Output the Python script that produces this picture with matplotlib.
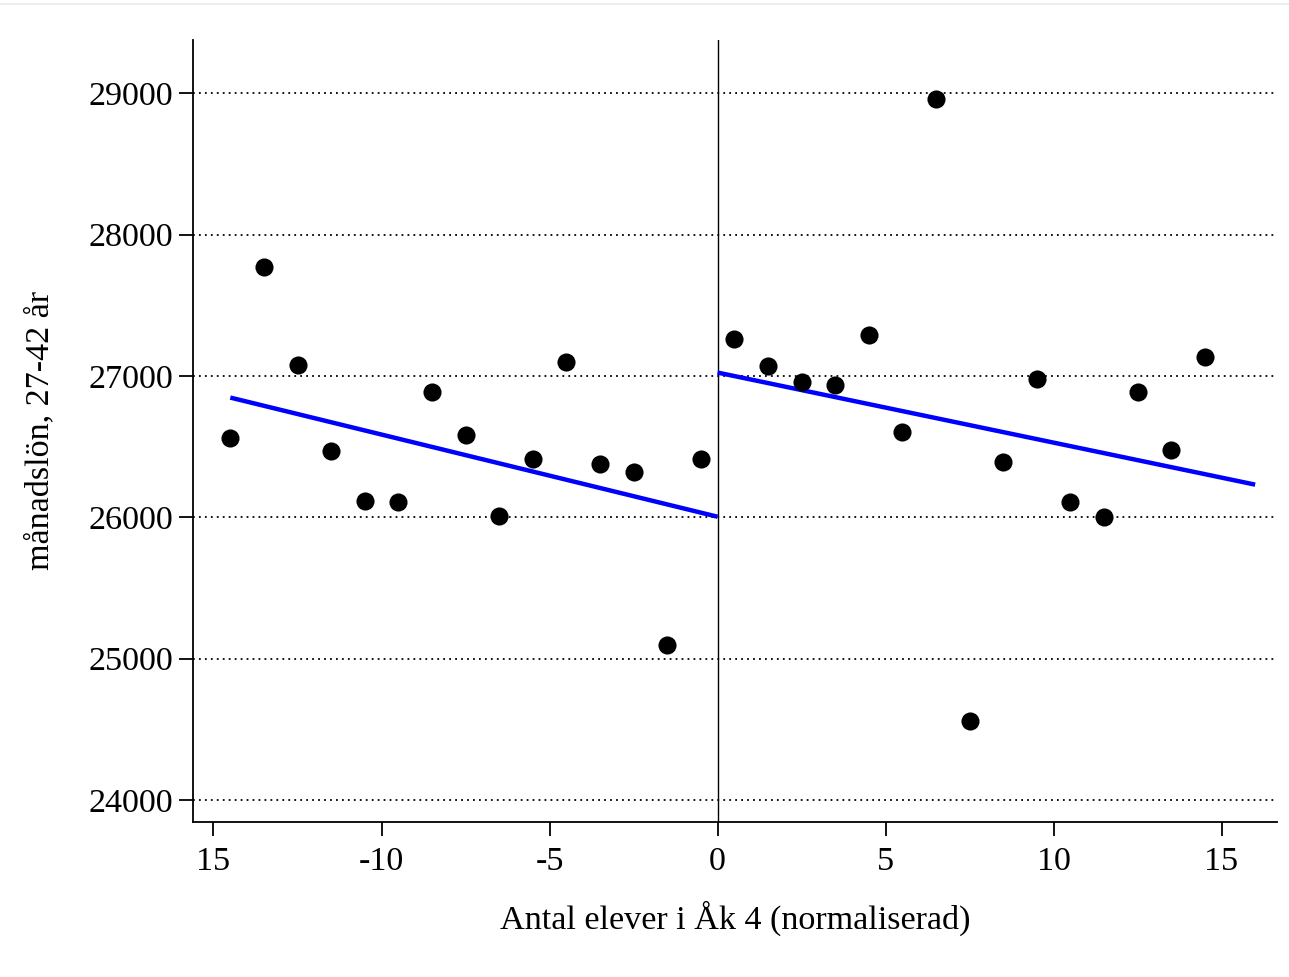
import matplotlib
matplotlib.use("Agg")
import matplotlib.pyplot as plt
from matplotlib.lines import Line2D

plt.rcParams['font.family'] = ['Liberation Serif', 'DejaVu Serif']

# Data
x_left = [-14.5, -13.5, -12.5, -11.5, -10.5, -9.5, -8.5, -7.5, -6.5, -5.5,
          -4.5, -3.5, -2.5, -1.5, -0.5]
y_left = [26564, 27768, 27081, 26472, 26118, 26110, 26883, 26585, 26011, 26415,
          27102, 26380, 26323, 25098, 26415]
x_right = [0.5, 1.5, 2.5, 3.5, 4.5, 5.5, 6.5, 7.5, 8.5, 9.5,
           10.5, 11.5, 12.5, 13.5, 14.5]
y_right = [27258, 27067, 26960, 26939, 27293, 26606, 28958, 24560, 26394, 26975,
           26110, 26004, 26883, 26479, 27137]
fit_left_x = [-14.5, 0]
fit_left_y = [26847, 26004]
fit_right_x = [0, 16]
fit_right_y = [27024, 26231]

x_ticks = [-15, -10, -5, 0, 5, 10, 15]
x_ticklabels = ['15', '-10', '-5', '0', '5', '10', '15']
y_ticks = [24000, 25000, 26000, 27000, 28000, 29000]
y_ticklabels = ['24000', '25000', '26000', '27000', '28000', '29000']

fig = plt.figure(figsize=(12.89, 9.77), dpi=100)
ax = fig.add_axes([193/1289, 1-822/977, (1277-193)/1289, (822-40)/977])

for yt in y_ticks:
    ax.axhline(yt, xmax=0.997, color='black', lw=1.3, linestyle=(0, (1, 2.3)), zorder=1)
ax.axvline(0, color='black', lw=1.0, zorder=2)

ax.plot(fit_left_x, fit_left_y, color='#0000ff', lw=3.2, solid_capstyle='butt', zorder=3)
ax.plot(fit_right_x, fit_right_y, color='#0000ff', lw=3.2, solid_capstyle='butt', zorder=3)
ax.scatter(x_left, y_left, s=170, color='black', zorder=4, linewidths=0)
ax.scatter(x_right, y_right, s=170, color='black', zorder=4, linewidths=0)

ax.set_xlim(-15.61, 16.65)
ax.set_ylim(23844, 29377)
ax.set_xticks(x_ticks)
ax.set_xticklabels(x_ticklabels)
ax.set_yticks(y_ticks)
ax.set_yticklabels(y_ticklabels)

for s in ['top', 'right']:
    ax.spines[s].set_visible(False)
for s in ['left', 'bottom']:
    ax.spines[s].set_linewidth(1.3)

ax.tick_params(axis='both', direction='out', length=10, width=1.3, labelsize=24.6)
ax.tick_params(axis='x', pad=8)
ax.tick_params(axis='y', pad=4)
ax.set_xlabel('Antal elever i Åk 4 (normaliserad)', fontsize=24.6, labelpad=17)
ax.set_ylabel('månadslön, 27-42 år', fontsize=24.6, labelpad=24)

fig.add_artist(Line2D([0, 1], [1-4/977, 1-4/977], color='#e9efef', lw=1.5, transform=fig.transFigure))

fig.savefig('out.png', dpi=100)
